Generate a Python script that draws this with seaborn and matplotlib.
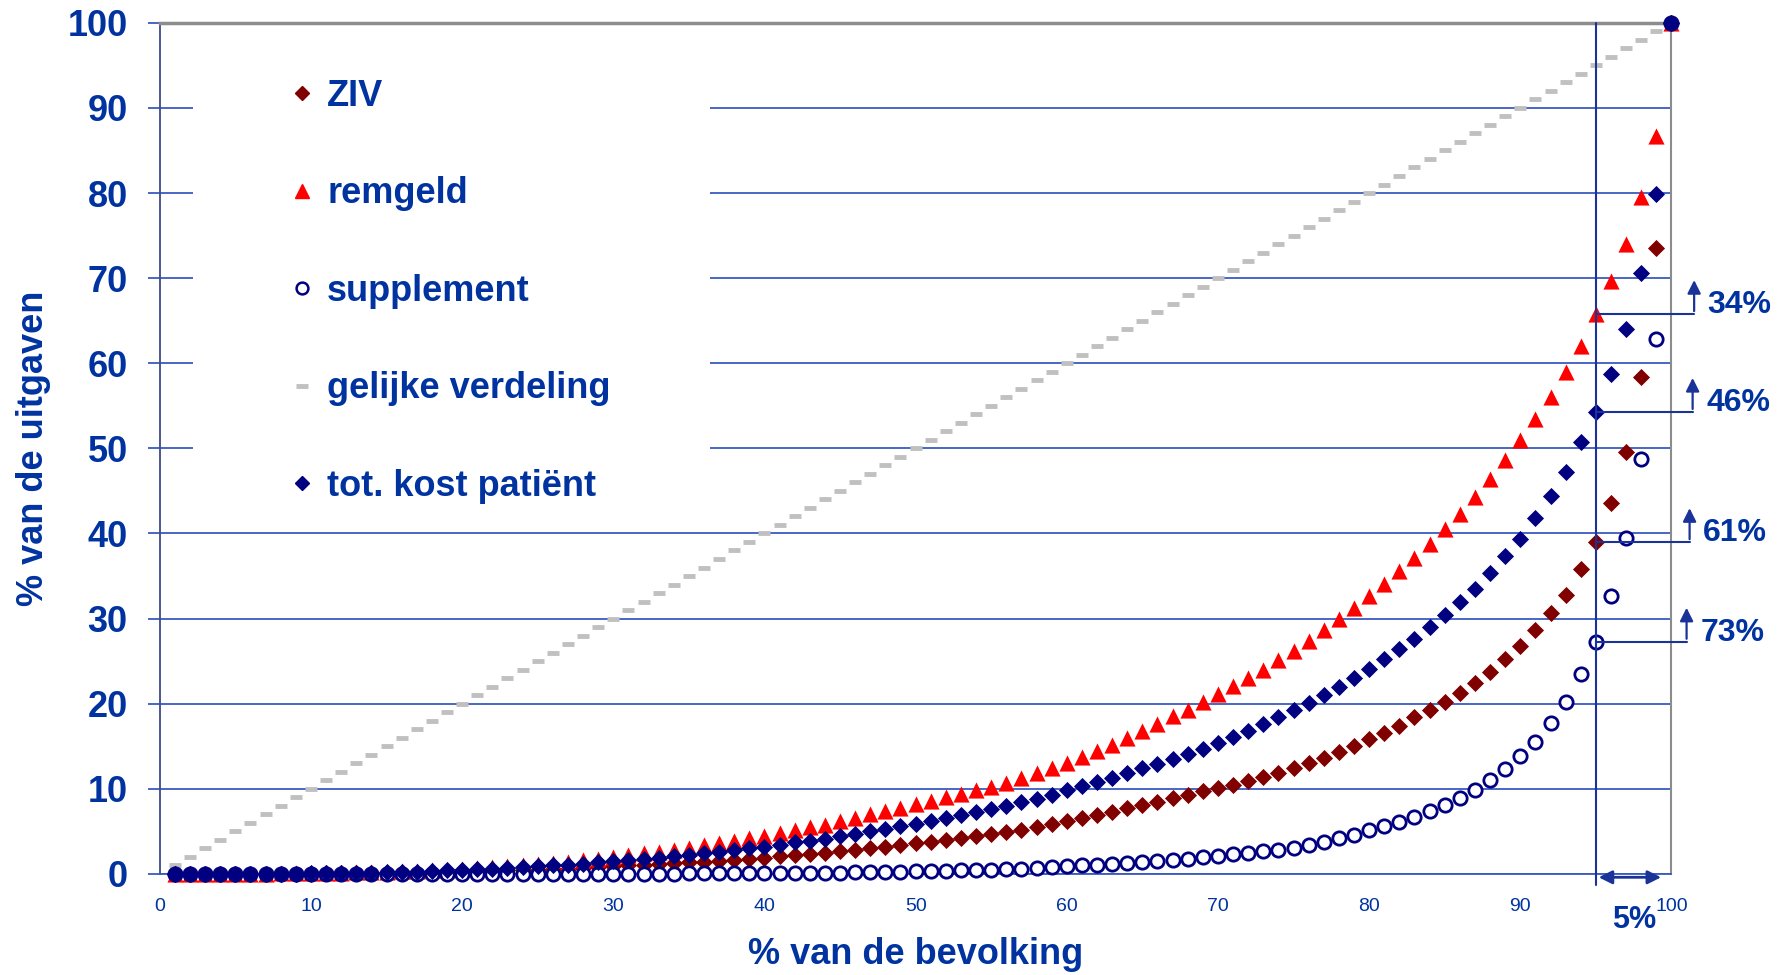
import matplotlib
matplotlib.use("Agg")
import pandas as pd
import seaborn as sns
import matplotlib.pyplot as plt
from matplotlib.lines import Line2D
from matplotlib.patches import Rectangle

# % van de bevolking (x) en cumulatief % van de uitgaven per reeks
bevolking = list(range(1, 101))

ziv = [0, 0, 0, 0, 0, 0, 0, 0, 0, 0,
       0.05, 0.05, 0.05, 0.1, 0.1, 0.1, 0.15, 0.2, 0.2, 0.3,
       0.3, 0.35, 0.4, 0.45, 0.5, 0.55, 0.6, 0.7, 0.8, 0.9,
       1.0, 1.05, 1.15, 1.25, 1.35, 1.45, 1.55, 1.65, 1.8, 1.9,
       2.05, 2.2, 2.35, 2.5, 2.7, 2.85, 3.0, 3.2, 3.4, 3.6,
       3.8, 4.0, 4.2, 4.45, 4.7, 4.95, 5.2, 5.5, 5.85, 6.2,
       6.55, 6.9, 7.3, 7.7, 8.1, 8.5, 8.9, 9.3, 9.7, 10.1,
       10.5, 10.9, 11.4, 11.9, 12.4, 13.0, 13.6, 14.3, 15.0, 15.8,
       16.6, 17.4, 18.4, 19.3, 20.2, 21.3, 22.4, 23.7, 25.2, 26.8,
       28.6, 30.6, 32.8, 35.8, 39.0, 43.6, 49.6, 58.4, 73.5, 100.0]

remgeld = [0, 0, 0, 0, 0, 0, 0, 0.05, 0.05, 0.1,
           0.1, 0.15, 0.2, 0.2, 0.25, 0.3, 0.35, 0.4, 0.5, 0.6,
           0.7, 0.8, 0.9, 1.0, 1.15, 1.3, 1.45, 1.6, 1.8, 2.0,
           2.2, 2.4, 2.6, 2.85, 3.1, 3.35, 3.6, 3.9, 4.2, 4.5,
           4.8, 5.1, 5.5, 5.8, 6.2, 6.6, 7.0, 7.4, 7.8, 8.2,
           8.6, 9.0, 9.4, 9.8, 10.2, 10.7, 11.3, 11.9, 12.4, 13.0,
           13.7, 14.4, 15.2, 16.0, 16.8, 17.6, 18.5, 19.3, 20.2, 21.1,
           22.1, 23.0, 24.0, 25.1, 26.2, 27.4, 28.6, 29.9, 31.2, 32.6,
           34.1, 35.6, 37.1, 38.8, 40.5, 42.3, 44.3, 46.4, 48.6, 51.0,
           53.4, 56.0, 59.0, 62.0, 65.8, 69.7, 74.0, 79.5, 86.7, 100.0]

supplement = [0, 0, 0, 0, 0, 0, 0, 0, 0, 0,
              0, 0, 0, 0, 0, 0, 0, 0, 0, 0,
              0, 0, 0, 0, 0, 0, 0.01, 0.01, 0.02, 0.02,
              0.02, 0.03, 0.03, 0.04, 0.05, 0.05, 0.06, 0.07, 0.08, 0.1,
              0.1, 0.12, 0.13, 0.14, 0.15, 0.17, 0.2, 0.22, 0.25, 0.3,
              0.33, 0.37, 0.4, 0.45, 0.5, 0.55, 0.6, 0.7, 0.8, 0.9,
              1.0, 1.1, 1.2, 1.3, 1.45, 1.55, 1.65, 1.8, 1.95, 2.1,
              2.3, 2.45, 2.65, 2.85, 3.1, 3.45, 3.8, 4.2, 4.6, 5.1,
              5.6, 6.1, 6.7, 7.4, 8.1, 8.95, 9.9, 11.0, 12.3, 13.9,
              15.5, 17.7, 20.2, 23.5, 27.3, 32.7, 39.5, 48.7, 62.9, 100.0]

tot_kost = [0, 0, 0, 0, 0, 0, 0, 0, 0, 0.05,
            0.05, 0.1, 0.1, 0.15, 0.2, 0.2, 0.25, 0.3, 0.4, 0.5,
            0.55, 0.6, 0.7, 0.8, 0.9, 1.0, 1.1, 1.2, 1.35, 1.5,
            1.6, 1.75, 1.9, 2.05, 2.2, 2.4, 2.6, 2.8, 3.0, 3.2,
            3.45, 3.7, 3.9, 4.15, 4.4, 4.7, 5.0, 5.3, 5.6, 5.9,
            6.25, 6.6, 6.95, 7.3, 7.65, 8.0, 8.4, 8.85, 9.3, 9.8,
            10.3, 10.8, 11.3, 11.8, 12.4, 12.9, 13.5, 14.1, 14.7, 15.4,
            16.1, 16.8, 17.6, 18.4, 19.2, 20.1, 21.0, 22.0, 23.0, 24.1,
            25.2, 26.4, 27.6, 29.0, 30.4, 31.9, 33.5, 35.3, 37.3, 39.4,
            41.8, 44.4, 47.2, 50.7, 54.3, 58.7, 64.0, 70.6, 79.9, 100.0]

# gelijke verdeling: iedereen evenveel -> zelfde waarden als de bevolking
gelijke = bevolking

grens_top = 95  # de 5% grootste verbruikers

df = pd.DataFrame({"bevolking": bevolking, "ZIV": ziv, "remgeld": remgeld,
                   "supplement": supplement, "gelijke": gelijke, "tot": tot_kost})

TEKST = "#0033a0"
GRID = "#3a5ac0"
PIJL = "#1a3399"

sns.set_theme(style="white")
plt.rcParams["font.family"] = ["Liberation Sans", "DejaVu Sans"]

fig = plt.figure(figsize=(17.89, 9.75), dpi=100)
ax = fig.add_axes([0.0893, 0.1037, 0.845, 0.8729])

# reeksen
sns.scatterplot(data=df, x="bevolking", y="gelijke", marker="_", s=70, color="#c0c0c0",
                linewidth=3.5, ax=ax, clip_on=False, zorder=3)
sns.scatterplot(data=df, x="bevolking", y="ZIV", marker="D", s=76, color="#800000",
                linewidth=0, ax=ax, clip_on=False, zorder=4)
sns.scatterplot(data=df, x="bevolking", y="remgeld", marker="^", s=135, color="#ff0000",
                linewidth=0, ax=ax, clip_on=False, zorder=4)
sns.scatterplot(data=df, x="bevolking", y="supplement", marker="o", s=92, color="white",
                edgecolor="#000080", linewidth=2, ax=ax, clip_on=False, zorder=4)
sns.scatterplot(data=df, x="bevolking", y="tot", marker="D", s=76, color="#000080",
                linewidth=0, ax=ax, clip_on=False, zorder=5)

ax.set_xlim(0, 100)
ax.set_ylim(0, 100)

# assen en raster
ax.set_axisbelow(True)
ax.yaxis.grid(True, color=GRID, linewidth=1.3)
ax.xaxis.grid(False)
ax.set_xticks(range(0, 101, 10))
ax.set_yticks(range(0, 101, 10))
ax.tick_params(axis="y", length=9, width=1.3, color=GRID, pad=14, labelsize=26, labelcolor=TEKST, left=True)
ax.tick_params(axis="x", length=0, pad=17, labelsize=14, labelcolor=TEKST)
for lbl in ax.get_yticklabels():
    lbl.set_fontweight("bold")

ax.spines["top"].set_color("#8c8c8c")
ax.spines["top"].set_linewidth(2.5)
ax.spines["right"].set_color("#8c8c8c")
ax.spines["right"].set_linewidth(1.5)
ax.spines["left"].set_color("#3c4a8c")
ax.spines["left"].set_linewidth(1.3)
ax.spines["bottom"].set_color(GRID)
ax.spines["bottom"].set_linewidth(1.3)

ax.set_xlabel("% van de bevolking", fontsize=26, fontweight="bold", color=TEKST, labelpad=16)
ax.set_ylabel("% van de uitgaven", fontsize=26, fontweight="bold", color=TEKST, labelpad=12)

# witte achtergrond van de legende
ax.add_patch(Rectangle((0.022, 0.43), 0.342, 0.56, transform=ax.transAxes,
                       facecolor="white", edgecolor="none", zorder=1))

handles = [
    Line2D([], [], ls="none", marker="D", ms=7.5, color="#800000"),
    Line2D([], [], ls="none", marker="^", ms=10.5, color="#ff0000"),
    Line2D([], [], ls="none", marker="o", ms=8.5, mfc="white", mec="#000080", mew=1.8),
    Line2D([], [], ls="none", marker="_", ms=8, mew=3.5, color="#c0c0c0"),
    Line2D([], [], ls="none", marker="D", ms=7.5, color="#000080"),
]
labels = ["ZIV", "remgeld", "supplement", "gelijke verdeling", "tot. kost patiënt"]
leg = ax.legend(handles, labels, loc="upper left", bbox_to_anchor=(0.082, 0.934),
                frameon=False, borderpad=0, borderaxespad=0, handlelength=1.0,
                handletextpad=0.2, labelspacing=1.73,
                prop={"size": 26, "weight": "bold"})
for t in leg.get_texts():
    t.set_color(TEKST)
leg.set_zorder(6)

# aanduiding van de top 5%
ax.plot([grens_top, grens_top], [100, -1.3], color=PIJL, lw=1.5, clip_on=False, zorder=6)
ax.annotate("", xy=(99.5, -0.4), xytext=(grens_top, -0.4),
            arrowprops=dict(arrowstyle="<|-|>", color=PIJL, lw=2, mutation_scale=20),
            annotation_clip=False, zorder=6)
ax.text(97.5, -5.4, "5%", ha="center", va="center", fontsize=22, fontweight="bold",
        color=TEKST, clip_on=False)

reeksen_top = [remgeld, tot_kost, ziv, supplement]
pijl_x = [101.5, 101.4, 101.2, 101.0]
for reeks, px in zip(reeksen_top, pijl_x):
    v = reeks[bevolking.index(grens_top)]
    ax.plot([grens_top, px], [v, v], color=PIJL, lw=1.5, clip_on=False, zorder=6)
    ax.annotate("", xy=(px, v + 4.3), xytext=(px, v),
                arrowprops=dict(arrowstyle="-|>", color=PIJL, lw=1.6, mutation_scale=20),
                annotation_clip=False, zorder=6)
    ax.text(px + 0.9, v + 1.0, f"{100 - v:.0f}%", ha="left", va="center", fontsize=23,
            fontweight="bold", color=TEKST, clip_on=False)

fig.savefig("out.png", dpi=100)
